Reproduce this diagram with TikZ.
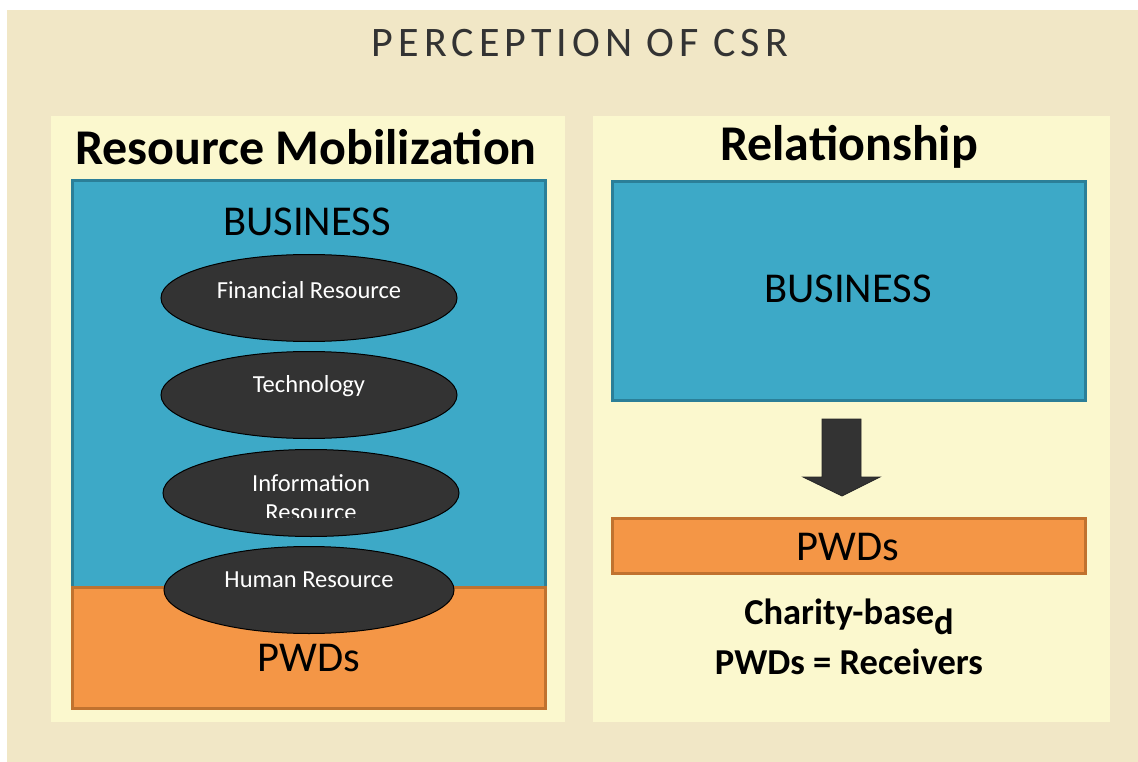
\documentclass[tikz,border=0pt]{standalone}
\usepackage{fontspec}
\setmainfont{Carlito}
\newfontfamily\titlefont{Carlito}[LetterSpace=12]
\usetikzlibrary{shapes.geometric}
\definecolor{bgbeige}{HTML}{F1E7C6}
\definecolor{panelyel}{HTML}{FBF8CE}
\definecolor{bizblue}{HTML}{3DA9C7}
\definecolor{bizborder}{HTML}{2B7F98}
\definecolor{pwdorange}{HTML}{F49646}
\definecolor{pwdborder}{HTML}{C0722F}
\definecolor{ovalfill}{HTML}{333333}
\tikzset{
  panel/.style={fill=panelyel, draw=none},
  bizbox/.style={fill=bizblue, draw=bizborder, line width=3pt},
  pwdbox/.style={fill=pwdorange, draw=pwdborder, line width=3pt},
  oval/.style={ellipse, fill=ovalfill, draw=black, line width=1pt, minimum width=296pt, minimum height=87pt, inner sep=0pt},
  ovaltext/.style={text=white, font=\fontsize{24.5}{28}\selectfont},
  bigtext/.style={font=\fontsize{42.5}{48}\selectfont, text=black},
  headtext/.style={font=\bfseries\fontsize{50}{56}\selectfont, text=black},
}
\begin{document}
\begin{tikzpicture}[x=1pt,y=-1pt]
\useasboundingbox (0,0) rectangle (1138,762);
\fill[white] (0,0) rectangle (1138,762);
\fill[bgbeige] (7,10) rectangle (1138,762);
\node[text=black!80, font=\titlefont\fontsize{42}{46}\selectfont] (title) at (580,43) {PERCEPTION OF CSR};
% panels
\fill[panel] (51,116) rectangle (565,722);
\fill[panel] (593,116) rectangle (1110,722);
\node[headtext] (lhead) at (306,147) {Resource Mobilization};
\node[headtext] (rhead) at (849,147) {Relationship};
% left panel boxes
\draw[bizbox] (72,181) rectangle (545,587);
\draw[pwdbox] (72,587) rectangle (545,708);
\node[bigtext] (lbiz) at (307,222) {BUSINESS};
\node[bigtext] (lpwd) at (309,658) {PWDs};
% ovals
\node[oval] (fin) at (309,298) {};
\node[ovaltext] at (309,290) {Financial Resource};
\node[oval] (tech) at (309,395) {};
\node[ovaltext] at (309,386) {Technology};
\node[oval] (info) at (311,493) {};
\begin{scope}
\clip (180,460) rectangle (440,517);
\node[ovaltext, align=center, font=\fontsize{24.5}{29}\selectfont] at (311,498) {Information\\Resource};
\end{scope}
\node[oval, minimum width=290pt] (hum) at (309,590) {};
\node[ovaltext] at (309,580) {Human Resource};
% right panel
\draw[bizbox] (612,182) rectangle (1085,400);
\node[bigtext] (rbiz) at (848,289) {BUSINESS};
\draw[pwdbox] (612,518) rectangle (1085,573);
\node[bigtext] (rpwd) at (848,547) {PWDs};
\coordinate (atop) at (842,419);
\coordinate (atip) at (842,496);
\fill[ovalfill, draw=black!85, line width=0.8pt] (822,419) -- (861,419) -- (861,477) -- (880,477) -- (atip) -- (803,477) -- (822,477) -- cycle;
\node[font=\bfseries\fontsize{36.5}{40}\selectfont] (charity) at (849,617) {Charity-base\raisebox{-0.28em}{d}};
\node[font=\bfseries\fontsize{36.5}{40}\selectfont] (recv) at (849,662) {PWDs = Receivers};
\end{tikzpicture}
\end{document}
